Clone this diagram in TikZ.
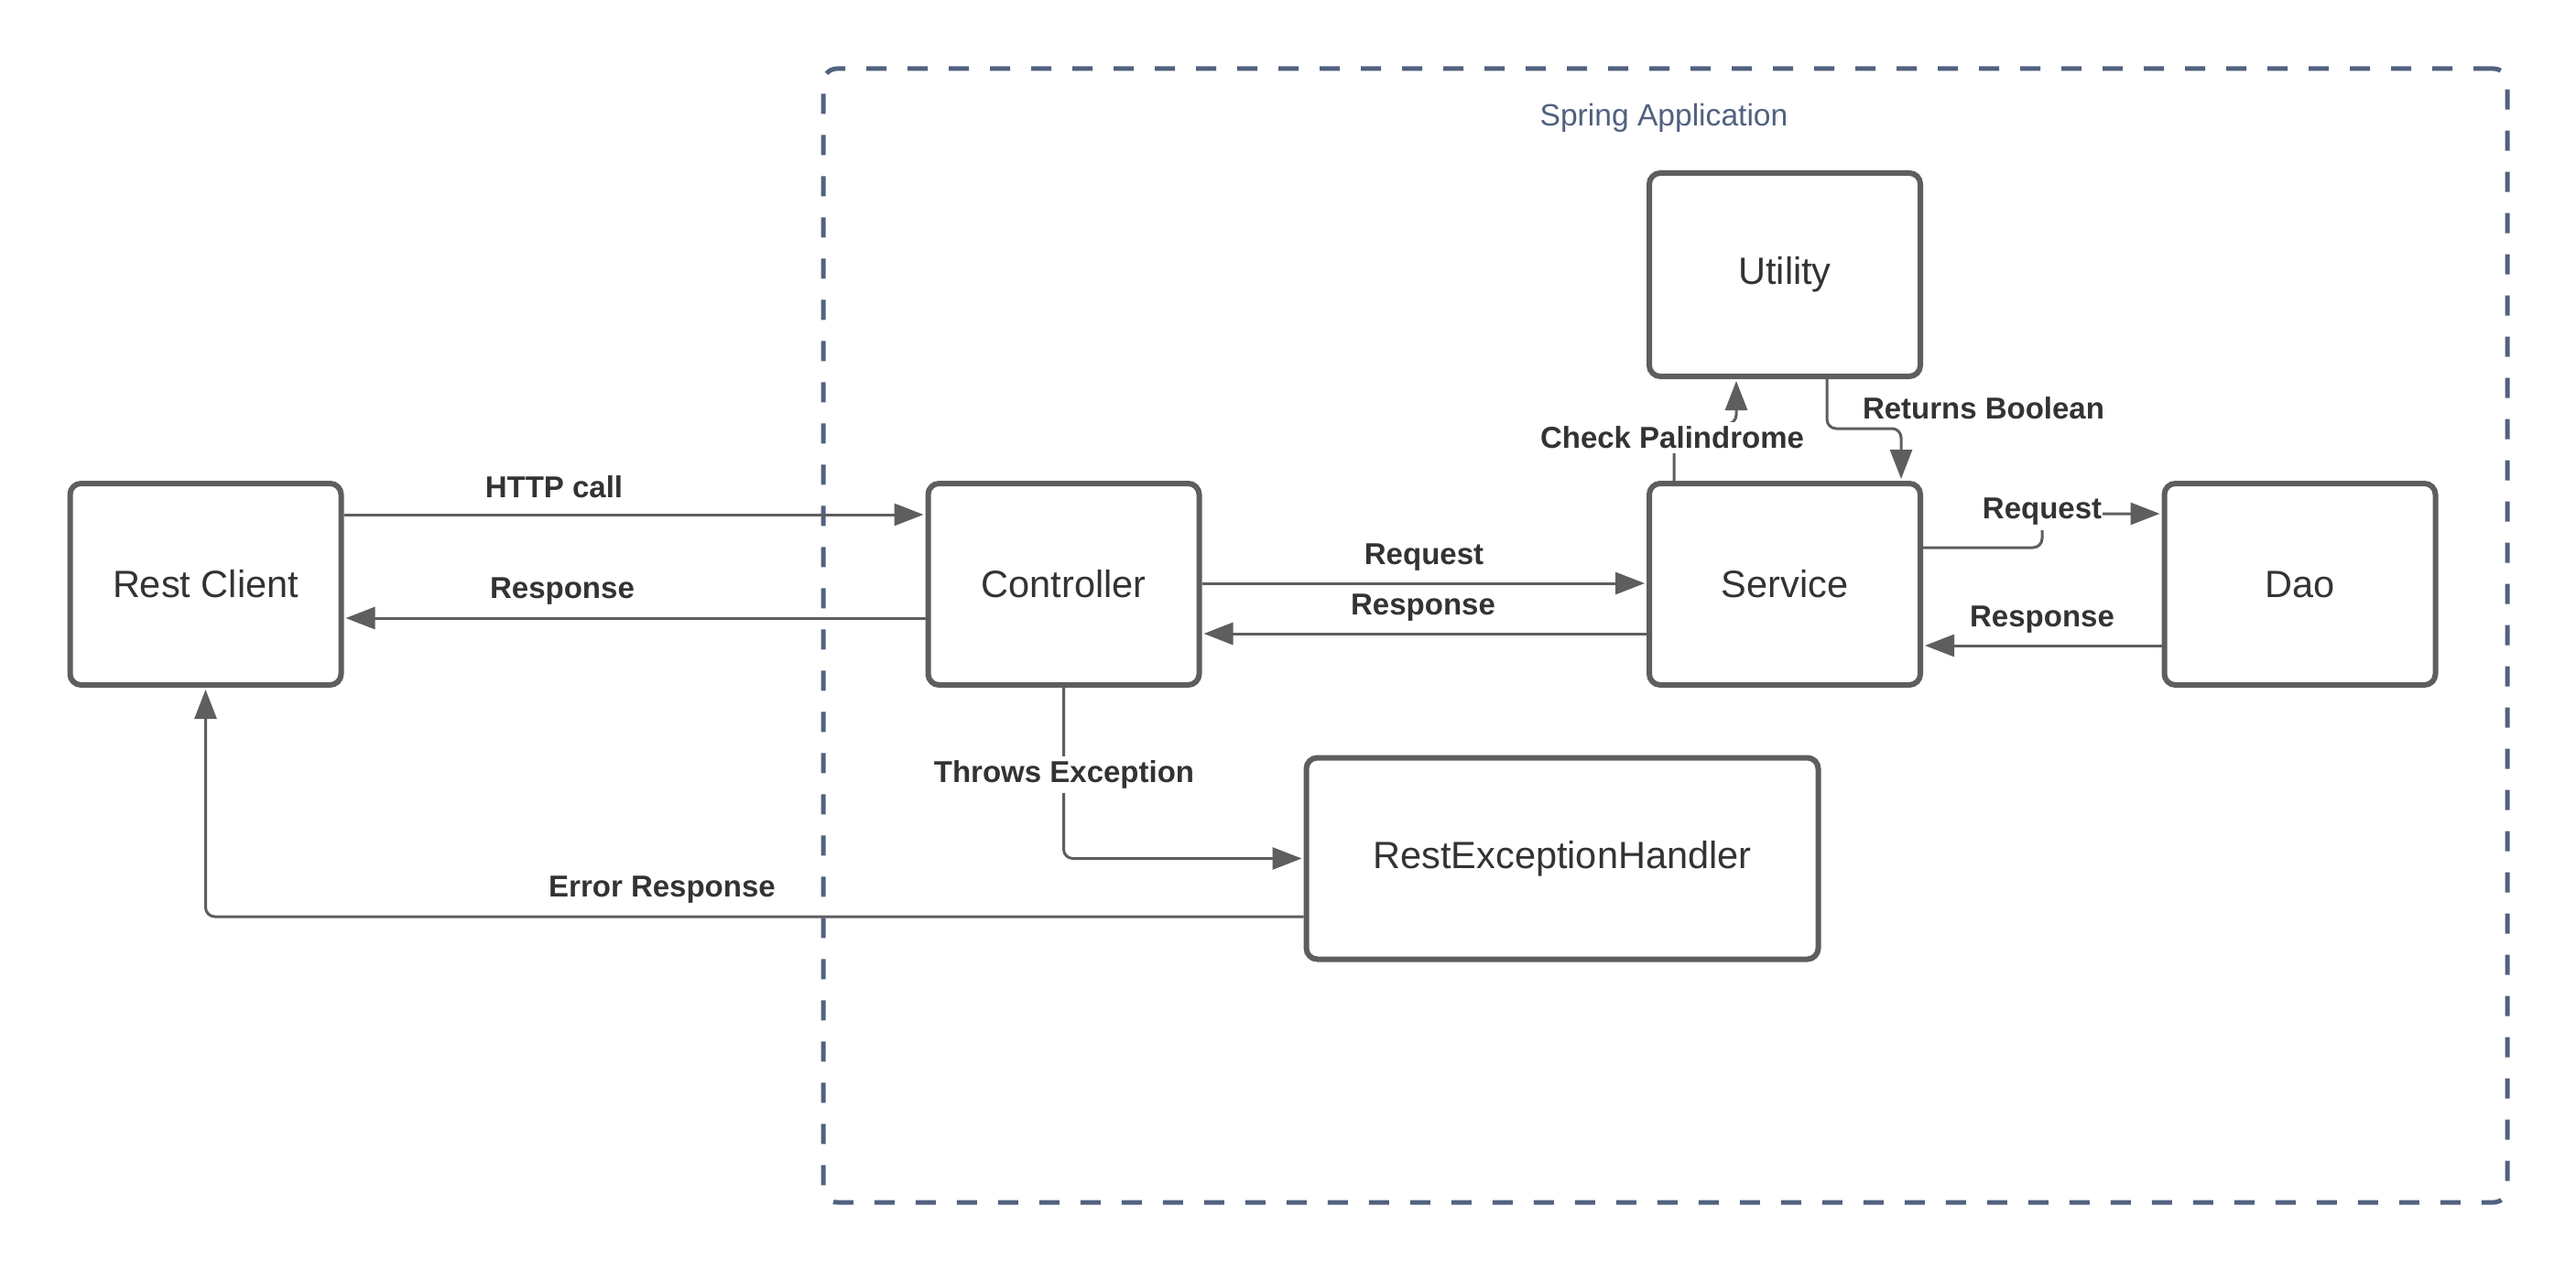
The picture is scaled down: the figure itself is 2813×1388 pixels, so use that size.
\documentclass[tikz,border=0pt]{standalone}
\usepackage{fontspec}
\setmainfont{Liberation Sans}
\usetikzlibrary{arrows.meta}
\definecolor{boxgray}{HTML}{5E5E5E}
\definecolor{txtgray}{HTML}{333333}
\definecolor{slate}{HTML}{51617F}
\begin{document}
\begin{tikzpicture}[x=1pt,y=-1pt,
  blk/.style={draw=boxgray, line width=6pt, rounded corners=12pt, fill=white, text=txtgray,
    font=\fontsize{41.5}{50}\selectfont, minimum width=296pt, minimum height=220pt, inner sep=0pt},
  conn/.style={draw=boxgray, line width=3pt, -{Triangle[length=32pt,width=24pt]}, shorten >=2pt},
  lbl/.style={text=txtgray, font=\fontsize{33}{40}\selectfont\bfseries, inner sep=5pt},
  lblw/.style={lbl, fill=white, inner xsep=1pt},
  container/.style={draw=slate, line width=5pt, dash pattern=on 22pt off 23pt, rounded corners=15pt,
    minimum width=1839pt, minimum height=1238pt, inner sep=0pt},
]
\path[use as bounding box, fill=white] (0,0) rectangle (2813,1388);

\node[container] (app) at (1818.5,694) {};
\node[text=slate, font=\fontsize{33.6}{40}\selectfont] (apptitle) at (1817,129) {Spring Application};

\node[blk] (rc) at (224.5,638) {Rest Client};
\node[blk] (ctrl) at (1161.5,638) {Controller};
\node[blk] (svc) at (1949,638) {Service};
\node[blk] (dao) at (2511.5,638) {Dao};
\node[blk, minimum height=222pt] (util) at (1949,300) {Utility};
\node[blk, minimum width=559pt] (reh) at (1706,937.5) {RestExceptionHandler};

% connectors
\draw[conn] ([yshift=76pt]rc.east) -- ([yshift=76pt]ctrl.west);
\draw[conn] ([yshift=-37pt]ctrl.west) -- ([yshift=-37pt]rc.east);
\draw[conn] ([yshift=1pt]ctrl.east) -- ([yshift=1pt]svc.west);
\draw[conn] ([yshift=-54pt]svc.west) -- ([yshift=-54pt]ctrl.east);
\draw[conn] ([yshift=40pt]svc.east) [rounded corners=10pt] -- (2230,598) -- (2230,561) [sharp corners] -- ([yshift=77pt]dao.west);
\draw[conn] ([yshift=-67pt]dao.west) -- ([yshift=-67pt]svc.east);
\draw[conn] ([xshift=-121pt]svc.north) [rounded corners=10pt] -- (1828,463) -- (1896,463) [sharp corners] -- ([xshift=-53pt]util.south);
\draw[conn] ([xshift=46pt]util.south) [rounded corners=10pt] -- (1995,468) -- (2076,468) [sharp corners] -- ([xshift=127pt]svc.north);
\draw[conn] (ctrl.south) [rounded corners=10pt] |- (reh.west);
\draw[conn] ([yshift=-63.5pt]reh.west) [rounded corners=10pt] -| (rc.south);

% labels
\node[lbl] (lhttp) at (605,532) {HTTP call};
\node[lbl] (lresp1) at (614,646) {Response};
\node[lbl] (lreq1) at (1555,609) {Request};
\node[lbl] (lresp2) at (1554,664) {Response};
\node[lblw] (lreq2) at (2230,559) {Request};
\node[lbl] (lresp3) at (2230,677) {Response};
\node[lblw] (lcheck) at (1826,478) {Check Palindrome};
\node[lbl] (lret) at (2166,446) {Returns Boolean};
\node[lblw] (lthrow) at (1162,846) {Throws Exception};
\node[lbl] (lerr) at (723,972) {Error Response};
\end{tikzpicture}
\end{document}
